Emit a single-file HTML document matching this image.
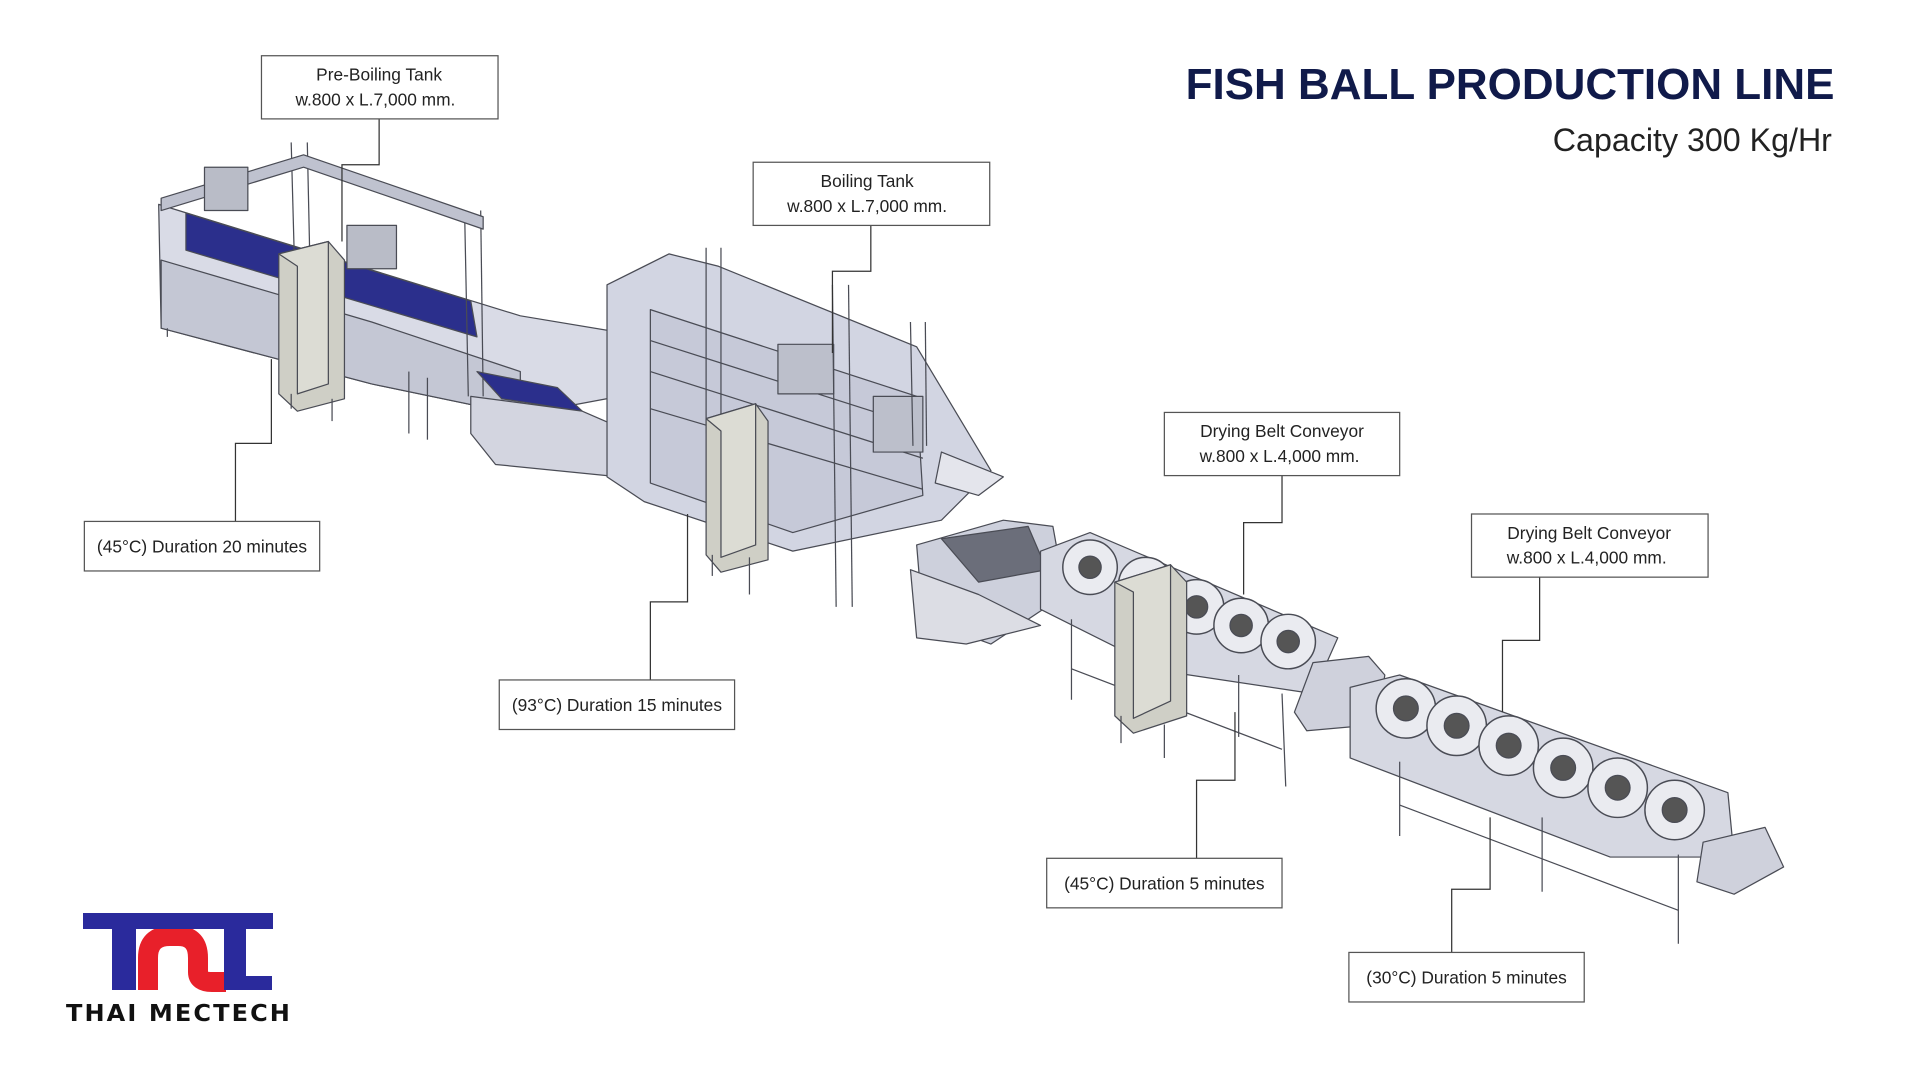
<!DOCTYPE html>
<html><head><meta charset="utf-8"><style>
html,body{margin:0;padding:0;background:#fff;}
body{width:1920px;height:1080px;position:relative;overflow:hidden;font-family:"Liberation Sans",sans-serif;}
svg{position:absolute;left:0;top:0;}
</style></head><body>
<svg width="1920" height="1080" viewBox="0 0 1550 872" xmlns="http://www.w3.org/2000/svg">
<g stroke="#4a4c55" stroke-width="1" stroke-linejoin="round">
<polygon points="128,165 420,255 510,270 500,320 420,335 300,310 130,265" fill="#d9dbe6"/>
<polygon points="150,172 380,243 385,272 150,202" fill="#2b2f8c"/>
<polygon points="130,210 300,260 420,300 420,335 300,310 130,265" fill="#c4c7d4"/>
<line x1="235" y1="115" x2="240" y2="300"/><line x1="248" y1="115" x2="252" y2="300"/>
<line x1="375" y1="170" x2="378" y2="320"/><line x1="388" y1="170" x2="390" y2="320"/>
<polygon points="130,160 245,125 390,175 390,185 245,135 130,170" fill="#bfc2cf"/>
<rect x="165" y="135" width="35" height="35" fill="#b9bcc7"/>
<rect x="280" y="182" width="40" height="35" fill="#b9bcc7"/>
<line x1="135" y1="265" x2="135" y2="272" /><line x1="330" y1="300" x2="330" y2="350"/><line x1="345" y1="305" x2="345" y2="355"/>
<polygon points="225,205 265,195 278,210 278,322 240,332 225,318" fill="#cfcfc6"/>
<polygon points="225,205 265,195 265,310 240,318 240,215" fill="#dcdcd4"/>
<line x1="235" y1="318" x2="235" y2="330"/><line x1="268" y1="322" x2="268" y2="340"/>
<polygon points="385,300 450,313 470,332 405,322" fill="#2b2f8c"/>
<polygon points="380,320 470,332 500,345 500,385 400,375 380,350" fill="#d3d5e0"/>
<polygon points="490,230 540,205 580,215 740,280 800,380 760,420 640,445 520,405 490,385" fill="#d2d5e2"/>
<polygon points="525,250 740,320 745,400 640,430 525,390" fill="#c6c9d8"/>
<line x1="525" y1="275" x2="745" y2="345"/><line x1="525" y1="300" x2="745" y2="370"/><line x1="525" y1="330" x2="745" y2="395"/>
<polygon points="760,365 810,385 790,400 755,390" fill="#e4e5ec"/>
<rect x="628" y="278" width="45" height="40" fill="#bcbfcb"/>
<rect x="705" y="320" width="40" height="45" fill="#bcbfcb"/>
<line x1="672" y1="230" x2="675" y2="490"/><line x1="685" y1="230" x2="688" y2="490"/>
<line x1="570" y1="200" x2="570" y2="350"/><line x1="582" y1="200" x2="582" y2="350"/>
<line x1="735" y1="260" x2="737" y2="360"/><line x1="747" y1="260" x2="748" y2="360"/>
<polygon points="570,338 610,326 620,340 620,452 582,462 570,448" fill="#cfcfc6"/>
<polygon points="570,338 610,326 610,440 582,450 582,348" fill="#dcdcd4"/>
<line x1="575" y1="448" x2="575" y2="465"/><line x1="605" y1="450" x2="605" y2="480"/>
<polygon points="740,440 810,420 850,425 860,480 800,520 745,500" fill="#cdd0dc"/>
<polygon points="760,435 830,425 845,460 790,470" fill="#6b6e7a"/>
<polygon points="735,460 790,480 840,505 780,520 740,515" fill="#dcdde4"/>
<polygon points="840,445 880,430 1080,515 1060,560 940,542 840,492" fill="#d6d8e2"/>
<g fill="#eaebf0" stroke-width="1.2">
<circle cx="880" cy="458" r="22"/><circle cx="925" cy="472" r="22"/><circle cx="966" cy="490" r="22"/><circle cx="1002" cy="505" r="22"/><circle cx="1040" cy="518" r="22"/></g>
<g fill="#555">
<circle cx="880" cy="458" r="9"/><circle cx="925" cy="472" r="9"/><circle cx="966" cy="490" r="9"/><circle cx="1002" cy="505" r="9"/><circle cx="1040" cy="518" r="9"/></g>
<line x1="865" y1="500" x2="865" y2="565"/><line x1="1035" y1="560" x2="1038" y2="635"/><line x1="1000" y1="545" x2="1000" y2="595"/>
<line x1="865" y1="540" x2="1035" y2="605"/>
<polygon points="900,470 945,456 958,470 958,578 915,592 900,578" fill="#cfcfc6"/>
<polygon points="900,470 945,456 945,566 915,580 915,478" fill="#dcdcd4"/>
<line x1="905" y1="578" x2="905" y2="600"/><line x1="940" y1="585" x2="940" y2="612"/>
<polygon points="1060,535 1105,530 1118,545 1112,585 1055,590 1045,575" fill="#cfd1dc"/>
<polygon points="1090,555 1130,545 1395,640 1400,692 1300,692 1090,612" fill="#d6d8e2"/>
<g fill="#eaebf0" stroke-width="1.2">
<circle cx="1135" cy="572" r="24"/><circle cx="1176" cy="586" r="24"/><circle cx="1218" cy="602" r="24"/><circle cx="1262" cy="620" r="24"/><circle cx="1306" cy="636" r="24"/><circle cx="1352" cy="654" r="24"/></g>
<g fill="#555">
<circle cx="1135" cy="572" r="10"/><circle cx="1176" cy="586" r="10"/><circle cx="1218" cy="602" r="10"/><circle cx="1262" cy="620" r="10"/><circle cx="1306" cy="636" r="10"/><circle cx="1352" cy="654" r="10"/></g>
<line x1="1130" y1="615" x2="1130" y2="675"/><line x1="1245" y1="660" x2="1245" y2="720"/><line x1="1355" y1="690" x2="1355" y2="762"/>
<line x1="1130" y1="650" x2="1355" y2="735"/>
<polygon points="1375,680 1425,668 1440,700 1400,722 1370,712" fill="#cfd1dc"/>
</g>
<g stroke="#333" stroke-width="1" fill="none">
<polyline points="306,96 306,133 276,133 276,195"/>
<polyline points="703,182 703,219 672,219 672,285"/>
<polyline points="190,421 190,358 219,358 219,290"/>
<polyline points="525,549 525,486 555,486 555,415"/>
<polyline points="1035,384 1035,422 1004,422 1004,480"/>
<polyline points="1243,466 1243,517 1213,517 1213,575"/>
<polyline points="966,693 966,630 997,630 997,575"/>
<polyline points="1172,769 1172,718 1203,718 1203,660"/>
</g>
<g fill="#fff" stroke="#555" stroke-width="1">
<rect x="211" y="45" width="191" height="51"/>
<rect x="608" y="131" width="191" height="51"/>
<rect x="68" y="421" width="190" height="40"/>
<rect x="403" y="549" width="190" height="40"/>
<rect x="940" y="333" width="190" height="51"/>
<rect x="1188" y="415" width="191" height="51"/>
<rect x="845" y="693" width="190" height="40"/>
<rect x="1089" y="769" width="190" height="40"/>
</g>
<g font-family="Liberation Sans, sans-serif" font-size="14" fill="#222" text-anchor="middle">
<text x="306" y="65">Pre-Boiling Tank</text><text x="303" y="85">w.800 x L.7,000 mm.</text>
<text x="700" y="151">Boiling Tank</text><text x="700" y="171">w.800 x L.7,000 mm.</text>
<text x="163" y="446">(45°C) Duration 20 minutes</text>
<text x="498" y="574">(93°C) Duration 15 minutes</text>
<text x="1035" y="353">Drying Belt Conveyor</text><text x="1033" y="373">w.800 x L.4,000 mm.</text>
<text x="1283" y="435">Drying Belt Conveyor</text><text x="1281" y="455">w.800 x L.4,000 mm.</text>
<text x="940" y="718">(45°C) Duration 5 minutes</text>
<text x="1184" y="794">(30°C) Duration 5 minutes</text>
</g>
<text x="1481" y="80" text-anchor="end" font-family="Liberation Sans, sans-serif" font-weight="bold" font-size="35.5" fill="#101a4a">FISH BALL PRODUCTION LINE</text>
<text x="1479" y="122" text-anchor="end" font-family="Liberation Sans, sans-serif" font-size="26" fill="#222">Capacity 300 Kg/Hr</text>
</svg>
<svg width="1920" height="1080" viewBox="0 0 1920 1080">
<path d="M148,990 L148,958 Q148,936 170,936 L178,936 Q198,936 198,958 L198,972 Q198,982 212,982 L226,982" fill="none" stroke="#e8202a" stroke-width="20"/>
<rect x="83" y="913" width="190" height="16" fill="#2a2a9c"/>
<rect x="112" y="913" width="24" height="77" fill="#2a2a9c"/>
<rect x="224" y="913" width="22" height="77" fill="#2a2a9c"/>
<rect x="224" y="976" width="48" height="14" fill="#2a2a9c"/>
<text x="179" y="1021" text-anchor="middle" font-family="DejaVu Sans, sans-serif" font-weight="bold" font-size="23" fill="#111" letter-spacing="2" textLength="226" lengthAdjust="spacingAndGlyphs">THAI MECTECH</text>
</svg>
</body></html>
